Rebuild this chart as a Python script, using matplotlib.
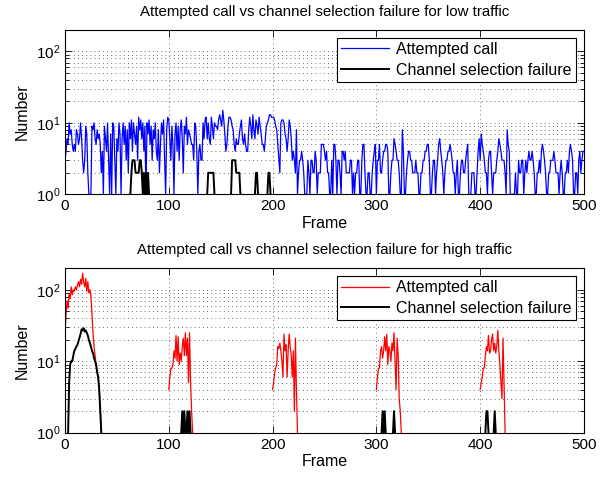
import numpy as np
import matplotlib
matplotlib.use('Agg')
import matplotlib.pyplot as plt
from matplotlib.ticker import LogLocator, NullFormatter

plt.rcParams['font.family'] = ['Liberation Sans', 'DejaVu Sans']
plt.rcParams['mathtext.fontset'] = 'custom'
plt.rcParams['mathtext.rm'] = 'Liberation Sans'

# Low traffic: attempted calls per frame (frames 0..499)
low_attempted = [
    3, 4, 6, 5, 10, 7, 8, 5, 4, 5, 4, 8, 7, 5, 6, 10, 6, 3, 2, 3,
    9, 7, 2, 1, 1, 1, 9, 8, 10, 6, 5, 8, 6, 7, 5, 2, 4, 1, 9, 6,
    4, 10, 3, 1, 7, 1, 10, 9, 3, 1, 6, 4, 10, 7, 1, 6, 10, 5, 9, 3,
    8, 2, 10, 6, 11, 4, 10, 7, 5, 9, 3, 12, 8, 11, 6, 10, 4, 9, 1, 10,
    7, 11, 5, 9, 3, 8, 6, 10, 4, 3, 8, 2, 5, 10, 7, 11, 3, 1, 8, 12,
    11, 6, 3, 9, 5, 1, 7, 10, 4, 9, 3, 8, 11, 6, 2, 9, 7, 12, 5, 8,
    7, 6, 5, 5, 3, 10, 9, 4, 1, 4, 5, 3, 3, 10, 6, 11, 12, 6, 10, 6,
    5, 12, 9, 6, 10, 9, 9, 8, 11, 13, 11, 9, 15, 11, 7, 4, 5, 9, 12, 12,
    11, 9, 8, 5, 4, 6, 5, 5, 7, 9, 11, 6, 5, 7, 5, 4, 4, 8, 12, 9,
    6, 13, 8, 6, 11, 9, 7, 12, 9, 7, 5, 5, 4, 6, 9, 10, 11, 13, 13, 12,
    12, 12, 11, 9, 8, 5, 3, 2, 10, 11, 11, 10, 7, 6, 4, 6, 11, 9, 6, 3,
    4, 3, 2, 8, 1, 2, 3, 3, 4, 3, 2, 1, 1, 1, 3, 2, 1, 3, 3, 2,
    2, 4, 3, 1, 2, 2, 2, 5, 5, 5, 4, 3, 4, 2, 2, 1, 1, 3, 1, 5,
    5, 3, 1, 3, 3, 2, 1, 4, 4, 3, 4, 2, 2, 2, 2, 3, 3, 1, 2, 1,
    2, 2, 3, 3, 1, 1, 3, 5, 5, 2, 1, 1, 2, 2, 1, 1, 2, 3, 4, 5,
    1, 3, 3, 5, 2, 2, 3, 4, 4, 5, 5, 4, 1, 1, 2, 3, 3, 6, 5, 4,
    3, 3, 2, 1, 1, 8, 4, 1, 1, 2, 3, 4, 4, 3, 3, 2, 2, 2, 3, 2,
    2, 1, 1, 2, 2, 3, 3, 4, 4, 5, 5, 3, 1, 1, 2, 3, 3, 1, 2, 3,
    5, 6, 4, 3, 2, 1, 2, 3, 3, 4, 4, 5, 4, 3, 2, 2, 1, 2, 3, 1,
    1, 2, 3, 3, 2, 2, 3, 4, 5, 1, 1, 1, 2, 2, 2, 1, 1, 2, 4, 6,
    3, 7, 5, 4, 3, 2, 2, 1, 3, 4, 4, 2, 1, 2, 2, 2, 3, 4, 6, 5,
    4, 3, 3, 3, 2, 1, 8, 5, 4, 1, 1, 1, 1, 1, 2, 1, 1, 3, 2, 2,
    3, 3, 1, 2, 3, 2, 3, 4, 3, 3, 4, 3, 2, 1, 1, 2, 2, 3, 2, 4,
    5, 4, 3, 2, 1, 1, 2, 2, 3, 3, 3, 4, 3, 2, 2, 2, 1, 2, 3, 2,
    1, 1, 2, 2, 3, 2, 4, 5, 4, 3, 1, 1, 2, 2, 1, 3, 4, 2, 3, 4,
]

# Low traffic: channel selection failures, (start frame, values); other frames are zero
low_fail_starts = [63, 137, 160, 183, 195]
low_fail_values = [
    [1, 2, 3, 3, 3, 2, 2, 2, 2, 3, 3, 2, 1, 2, 1, 2, 1, 2, 1],
    [1, 2, 2, 2, 2, 2, 2, 1],
    [1, 3, 3, 3, 3, 2, 2, 2, 2, 1],
    [1, 2, 2, 1],
    [1, 2, 2, 1],
]

# High traffic: attempted calls, bursts at start frames
high_att_starts = [0, 100, 200, 300, 400]
high_att_values = [
    [25, 45, 70, 55, 90, 75, 110, 85, 100, 95, 110, 100, 115, 130, 110, 140, 120,
     170, 130, 110, 145, 95, 130, 90, 100, 83, 45, 25, 16, 12, 9, 7, 6, 4, 2, 1],
    [4, 6, 8, 8, 9, 14, 11, 23, 10, 22, 9, 13, 10, 16, 21, 12, 25, 12, 21, 5,
     25, 5, 2, 1],
    [4, 5, 7, 8, 9, 16, 15, 18, 14, 10, 6, 24, 14, 17, 6, 14, 24, 16, 12, 6,
     14, 2, 21, 4, 1],
    [4, 6, 8, 8, 14, 16, 11, 14, 22, 14, 24, 9, 16, 14, 10, 18, 14, 25, 10, 4,
     21, 12, 3, 2, 1],
    [4, 5, 6, 8, 8, 12, 16, 14, 23, 13, 14, 20, 24, 14, 18, 13, 16, 27, 14, 9,
     5, 3, 21, 5, 1],
]

# High traffic: channel selection failures
high_fail_starts = [3, 112, 305, 316, 405, 413]
high_fail_values = [
    [1, 5, 9, 10, 10, 12, 14, 15, 16, 17, 19, 21, 24, 28, 27, 29, 26, 27, 25, 23,
     20, 18, 16, 14, 13, 11, 10, 9, 7, 6, 4, 2, 1],
    [1, 2, 1, 2, 1, 1, 2, 1, 2, 1],
    [1, 2, 1, 2, 1],
    [1, 2, 1],
    [1, 2, 2, 1],
    [1, 2, 1],
]

n_frames = len(low_attempted)
frames = np.arange(n_frames)


def series(starts, values):
    # zero frames are left as NaN so the log axis leaves a gap
    y = np.full(n_frames, np.nan)
    for s, v in zip(starts, values):
        y[s:s + len(v)] = v
    return y


low_fail = series(low_fail_starts, low_fail_values)
high_att = series(high_att_starts, high_att_values)
high_fail = series(high_fail_starts, high_fail_values)

fig = plt.figure(figsize=(6.09, 4.79), dpi=100)
ax1 = fig.add_axes([0.1067, 0.5944, 0.8522, 0.343])
ax2 = fig.add_axes([0.1067, 0.0967, 0.8522, 0.3432])

panels = [
    (ax1, np.array(low_attempted, dtype=float), low_fail, 'b', 'low'),
    (ax2, high_att, high_fail, 'r', 'high'),
]

for ax, att, fail, col, name in panels:
    ax.plot(frames, att, color=col, lw=0.9, label='Attempted call')
    ax.plot(frames, fail, color='k', lw=1.4, label='Channel selection failure')
    ax.set_yscale('log', nonpositive='mask')
    ax.set_xlim(0, 500)
    ax.set_ylim(1, 200)
    ax.set_xticks(range(0, 501, 100))
    ax.yaxis.set_minor_locator(LogLocator(base=10, subs=np.arange(2, 10)))
    ax.yaxis.set_minor_formatter(NullFormatter())
    ax.grid(True, which='major', ls=(0, (1, 4)), color='0.25', lw=0.6)
    ax.grid(True, which='minor', axis='y', ls=(0, (1, 4)), color='0.25', lw=0.6)
    ax.tick_params(which='both', direction='in', top=True, right=True, labelsize=11)
    ax.tick_params(which='major', length=5, width=0.6)
    ax.tick_params(which='minor', length=3, width=0.6)
    for sp in ax.spines.values():
        sp.set_linewidth(0.8)
    ax.set_xlabel('Frame', fontsize=11.5, labelpad=2)
    ax.set_ylabel('Number', fontsize=11.5, labelpad=4)
    ax.set_title(f'Attempted call vs channel selection failure for {name} traffic',
                 fontsize=10.8, pad=10)
    leg = ax.legend(loc='upper right', fontsize=11.5, fancybox=False, framealpha=1,
                    edgecolor='k', handlelength=3.0, labelspacing=0.35,
                    borderpad=0.25, handletextpad=0.5, borderaxespad=0.5)
    leg.get_frame().set_linewidth(0.8)

fig.savefig('out.png', dpi=100)
